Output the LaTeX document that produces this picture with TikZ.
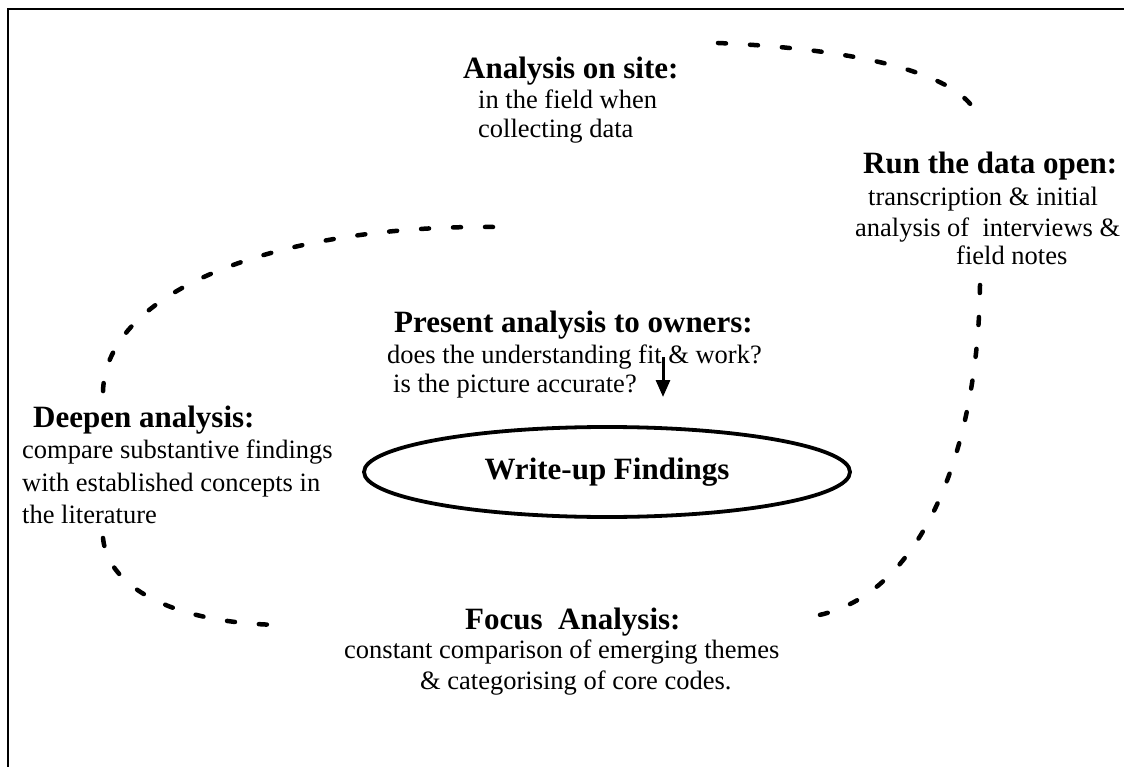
\documentclass[tikz,border=0pt]{standalone}
\usepackage{fontspec}
\setmainfont{Liberation Serif}
\usetikzlibrary{shapes.geometric,arrows.meta}
\begin{document}
\begin{tikzpicture}[x=1pt,y=-1pt,
  heading/.style={font=\fontsize{31}{36}\selectfont\bfseries, inner sep=0pt, anchor=base west},
  body/.style={font=\fontsize{26.5}{31}\selectfont, inner sep=0pt, anchor=base west},
  loopline/.style={line width=4.5pt, dash pattern=on 8pt off 24pt, line cap=round},
  frameline/.style={line width=2pt},
  findings/.style={ellipse, draw, line width=3.8pt, minimum width=486pt,
    minimum height=90pt, inner sep=0pt, font=\fontsize{31}{36}\selectfont\bfseries},
  pointer/.style={line width=3pt, -{Triangle[width=14pt,length=17pt]}}
]
\useasboundingbox (0,0) rectangle (1124,767);

% page frame (top and left edges)
\draw[frameline] (8,767) -- (8,9) -- (1124,9);

% analysis on site
\node[heading] (siteH) at (463,79) {Analysis on site:};
\node[body] (site1) at (478,109) {in the field when};
\node[body] (site2) at (478,138) {collecting data};

% run the data open
\node[heading] (runH) at (863,174) {Run the data open:};
\node[body] (run1) at (868,206) {transcription \& initial};
\node[body] (run2) at (855,237) {analysis of\ \ interviews \&};
\node[body] (run3) at (956,265) {field notes};

% present analysis to owners
\node[heading] (presH) at (394,332) {Present analysis to owners:};
\node[body] (pres1) at (387,363) {does the understanding fit \& work?};
\node[body] (pres2) at (393,392) {is the picture accurate?};

% deepen analysis
\node[heading] (deepH) at (33,427) {Deepen analysis:};
\node[body] (deep1) at (22,458) {compare substantive findings};
\node[body] (deep2) at (22,491) {with established concepts in};
\node[body] (deep3) at (22,523) {the literature};

% focus analysis
\node[heading] (focH) at (465,629) {Focus\ \ Analysis:};
\node[body] (foc1) at (344,658) {constant comparison of emerging themes};
\node[body] (foc2) at (420,689) {\& categorising of core codes.};

% central ellipse
\node[findings] (write) at (607,472) {\raisebox{-10pt}{Write-up Findings}};

% short arrow towards the findings
\coordinate (arrTop) at (663,357);
\coordinate (arrTip) at (663,397);
\draw[pointer] (arrTop) -- (arrTip);

% dashed loop segments
\coordinate (topA) at (718,43);
\coordinate (topB) at (980,125);
\coordinate (rightA) at (980,285);
\coordinate (rightB) at (797,618);
\coordinate (upA) at (493,227);
\coordinate (upB) at (103,392);
\coordinate (lowA) at (103,538);
\coordinate (lowB) at (287,625);

\draw[loopline] (topA) .. controls (880,50) and (975,80) .. (topB);
\draw[loopline] (rightA) .. controls (978,460) and (915,612) .. (rightB);
\draw[loopline] (upA) .. controls (280,225) and (105,290) .. (upB);
\draw[loopline] (lowA) .. controls (108,590) and (180,625) .. (lowB);
\end{tikzpicture}
\end{document}
